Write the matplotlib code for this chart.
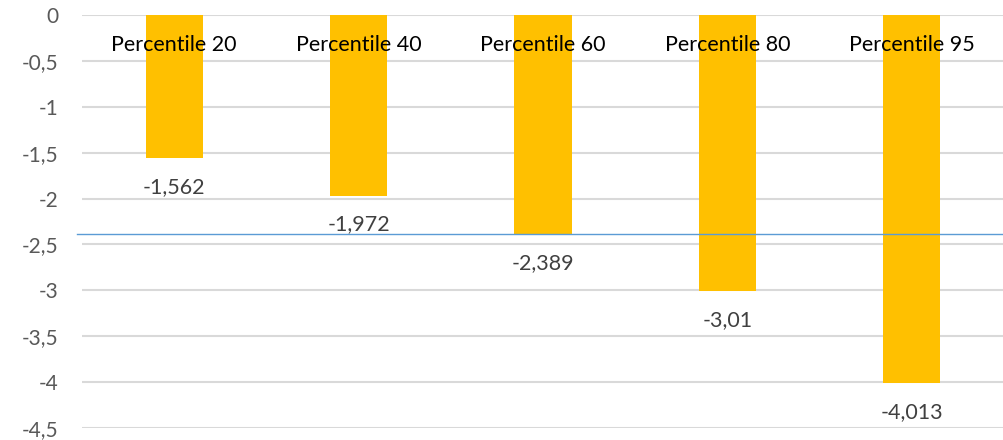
import matplotlib
matplotlib.use('Agg')
from matplotlib import pyplot as plt

categories = ['Percentile 20', 'Percentile 40', 'Percentile 60', 'Percentile 80', 'Percentile 95']
values = [-1.562, -1.972, -2.389, -3.01, -4.013]
value_labels = ['-1,562', '-1,972', '-2,389', '-3,01', '-4,013']
ref_line = -2.389
yticks = [0, -0.5, -1, -1.5, -2, -2.5, -3, -3.5, -4, -4.5]

plt.rcParams['font.family'] = ['Lato', 'DejaVu Sans']

fig = plt.figure(figsize=(10.04, 4.4), dpi=100)
ax = fig.add_axes([82/1004, 1 - 428/440, 1 - 82/1004, (428 - 15)/440])

x = range(len(categories))
ax.bar(x, values, width=0.31, color='#FFC000', zorder=2)

for i, (v, lab) in enumerate(zip(values, value_labels)):
    ax.text(i, v - 0.31, lab, ha='center', va='center', fontsize=15.5, color='#404040')
    ax.text(i, -0.33, categories[i], ha='center', va='center', fontsize=15.5, color='black', zorder=3)

ax.axhline(ref_line, xmin=-0.005, xmax=1, color='#5B9BD5', linewidth=1, zorder=3, clip_on=False)

ax.set_xlim(-0.5, len(categories) - 0.5)
ax.set_ylim(-4.5, 0)
ax.set_yticks(yticks)
ax.set_yticklabels([('%g' % t).replace('.', ',') for t in yticks], fontsize=15, color='#595959')
ax.set_xticks([])
ax.yaxis.grid(True, color='#D9D9D9', linewidth=1.5, zorder=0)
ax.set_axisbelow(True)
ax.tick_params(axis='y', length=0, pad=17)
for s in ax.spines.values():
    s.set_visible(False)

plt.savefig('out.png', dpi=100)
